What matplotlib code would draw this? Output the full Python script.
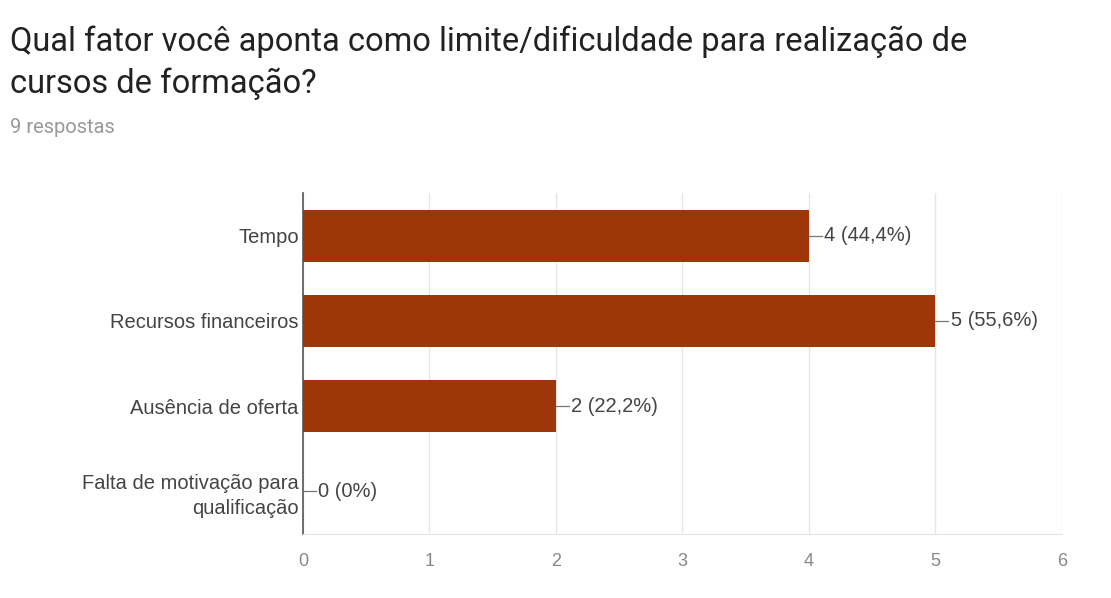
import matplotlib.pyplot as plt

# Dados do gráfico
categorias = ['Tempo', 'Recursos financeiros', 'Ausência de oferta',
              'Falta de motivação para\nqualificação']
respostas = [4, 5, 2, 0]
rotulos = ['4 (44,4%)', '5 (55,6%)', '2 (22,2%)', '0 (0%)']
total = 9

plt.rcParams['font.family'] = ['Liberation Sans', 'DejaVu Sans']

fig = plt.figure(figsize=(11.11, 5.98), dpi=100)
ax = fig.add_axes([0.2727, 0.107, 0.6832, 0.570])

pos = list(range(len(categorias)))
ax.barh(pos, respostas, height=0.61, color='#9e3609', zorder=3)

# Rótulos com pequena linha guia
for p, v, r in zip(pos, respostas, rotulos):
    ax.plot([v, v + 0.1], [p, p], color='#777777', lw=0.9, zorder=4)
    ax.text(v + 0.12, p, r, va='center', ha='left', fontsize=14.5,
            color='#444444')

ax.set_xlim(0, 6)
ax.set_ylim(3.5, -0.5)
ax.set_xticks(range(7))
ax.set_yticks(pos)
ax.set_yticklabels(categorias, fontsize=14.5, color='#444444', linespacing=1.35)
ax.tick_params(axis='x', colors='#888888', labelsize=13, length=0, pad=14)
ax.tick_params(axis='y', length=0, pad=3)
ax.grid(axis='x', color='#e6e6e6', lw=1, zorder=0)

for s in ['top', 'right']:
    ax.spines[s].set_visible(False)
ax.spines['bottom'].set_color('#e6e6e6')
ax.spines['left'].set_color('#555555')
ax.spines['left'].set_linewidth(1.2)

fig.text(0.009, 0.958, 'Qual fator você aponta como limite/dificuldade para realização de\ncursos de formação?',
         fontsize=23.5, color='#222222', va='top', ha='left', linespacing=1.4,
         family=['Roboto', 'DejaVu Sans'])
fig.text(0.009, 0.787, f'{total} respostas', fontsize=14.5, color='#999999',
         va='center', ha='left', family=['Roboto', 'DejaVu Sans'])

fig.savefig('out.png', dpi=100)
